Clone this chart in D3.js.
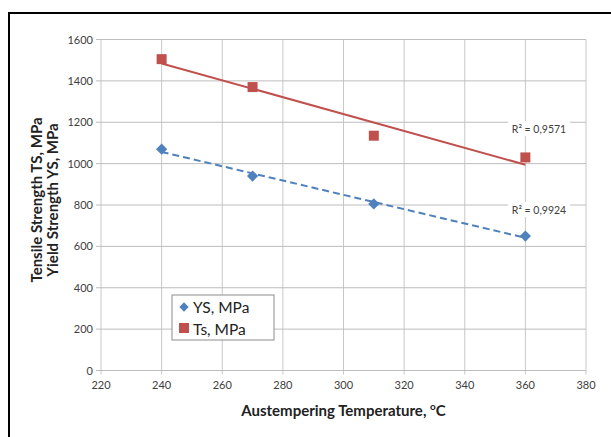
<!DOCTYPE html>
<html>
<head>
<meta charset="utf-8">
<script src="https://cdn.jsdelivr.net/npm/d3@7"></script>
<style>
  body { margin: 0; background: #fff; }
  svg { display: block; font-family: Lato, "Open Sans", sans-serif; }
</style>
</head>
<body>
<svg id="chart" width="611" height="437"></svg>
<script>
let temps = [240, 270, 310, 360];
let ysValues = [1070, 940, 805, 650];
let tsValues = [1505, 1370, 1135, 1030];
let xTicks = [220, 240, 260, 280, 300, 320, 340, 360, 380];
let yTicks = [0, 200, 400, 600, 800, 1000, 1200, 1400, 1600];
let seriesNames = ["YS, MPa", "Ts, MPa"];
let r2Labels = ["R\u00b2 = 0,9571", "R\u00b2 = 0,9924"];

let svg = d3.select("#chart");
let plotLeft = 101, plotRight = 586, plotTop = 39.5, plotBottom = 370.5;

let x = d3.scaleLinear().domain([220, 380]).range([plotLeft, plotRight]);
let y = d3.scaleLinear().domain([0, 1600]).range([plotBottom, plotTop]);

// outer frame (only top and left visible)
svg.append("path")
    .attr("d", "M9,440 L9,13 L615,13")
    .style("fill", "none")
    .style("stroke", "#000")
    .style("stroke-width", 2);

// grid
svg.append("g").selectAll("line")
    .data(xTicks)
    .enter()
    .append("line")
    .attr("x1", d => x(d)).attr("x2", d => x(d))
    .attr("y1", plotTop).attr("y2", plotBottom + 4)
    .style("stroke", "#c8c8c8");
svg.append("g").selectAll("line")
    .data(yTicks)
    .enter()
    .append("line")
    .attr("x1", plotLeft - 5).attr("x2", plotRight)
    .attr("y1", d => y(d)).attr("y2", d => y(d))
    .style("stroke", "#bdbdbd");

// tick labels
svg.append("g").selectAll("text")
    .data(yTicks)
    .enter()
    .append("text")
    .attr("x", plotLeft - 8)
    .attr("y", d => y(d) + 4)
    .attr("text-anchor", "end")
    .style("font-size", "11px")
    .style("fill", "#404040")
    .text(d => d);
svg.append("g").selectAll("text")
    .data(xTicks)
    .enter()
    .append("text")
    .attr("x", d => x(d))
    .attr("y", plotBottom + 18)
    .attr("text-anchor", "middle")
    .style("font-size", "11px")
    .style("fill", "#404040")
    .text(d => d);

// axis titles
let xt = svg.append("text")
    .attr("x", (plotLeft + plotRight) / 2)
    .attr("y", 416)
    .attr("text-anchor", "middle")
    .style("font-size", "15px")
    .style("font-weight", "bold")
    .style("fill", "#222");
xt.append("tspan").text("Austempering Temperature, ");
xt.append("tspan").attr("dy", -6).style("font-size", "10px").text("o");
xt.append("tspan").attr("dy", 6).text("C");

let yt = svg.append("text")
    .attr("transform", "translate(42,200) rotate(-90)")
    .attr("text-anchor", "middle")
    .style("font-size", "15px")
    .style("font-weight", "bold")
    .style("fill", "#222");
yt.append("tspan").attr("x", 0).attr("dy", 0).text("Tensile Strength TS, MPa");
yt.append("tspan").attr("x", 0).attr("dy", 16).text("Yield Strength YS, MPa");

// linear trend lines
function fit(xs, ys) {
    let mx = d3.mean(xs), my = d3.mean(ys);
    let sxy = d3.sum(xs, (v, i) => (v - mx) * (ys[i] - my));
    let sxx = d3.sum(xs, v => (v - mx) * (v - mx));
    let b = sxy / sxx;
    return v => my + b * (v - mx);
}
let fTs = fit(temps, tsValues);
let fYs = fit(temps, ysValues);
let xEnds = [d3.min(temps), d3.max(temps)];

svg.append("line")
    .attr("x1", x(xEnds[0])).attr("y1", y(fTs(xEnds[0])))
    .attr("x2", x(xEnds[1])).attr("y2", y(fTs(xEnds[1])))
    .style("stroke", "#c0504d")
    .style("stroke-width", 2);
svg.append("line")
    .attr("x1", x(xEnds[0])).attr("y1", y(fYs(xEnds[0])))
    .attr("x2", x(xEnds[1])).attr("y2", y(fYs(xEnds[1])))
    .style("stroke", "#4f81bd")
    .style("stroke-width", 2)
    .style("stroke-dasharray", "7,4");

// markers
svg.append("g").selectAll("rect")
    .data(temps)
    .enter()
    .append("rect")
    .attr("x", d => x(d) - 5)
    .attr("y", (d, i) => y(tsValues[i]) - 5)
    .attr("width", 10).attr("height", 10)
    .style("fill", "#c0504d");
svg.append("g").selectAll("path")
    .data(temps)
    .enter()
    .append("path")
    .attr("d", d3.symbol().type(d3.symbolDiamond2).size(80))
    .attr("transform", (d, i) => "translate(" + x(d) + "," + y(ysValues[i]) + ")")
    .style("fill", "#4f81bd");

// R² labels
let r2Pos = [[539, 129], [539, 210]];
r2Labels.forEach((t, i) => {
    svg.append("rect")
        .attr("x", r2Pos[i][0] - 31).attr("y", r2Pos[i][1] - 8)
        .attr("width", 62).attr("height", 15)
        .style("fill", "#fff");
    svg.append("text")
        .attr("x", r2Pos[i][0]).attr("y", r2Pos[i][1] + 4)
        .attr("text-anchor", "middle")
        .style("font-size", "10.5px")
        .style("fill", "#404040")
        .text(t);
});

// legend
let lg = svg.append("g").attr("transform", "translate(172,295)");
lg.append("rect")
    .attr("width", 102).attr("height", 45)
    .style("fill", "#fff")
    .style("stroke", "#8c8c8c");
lg.append("path")
    .attr("d", d3.symbol().type(d3.symbolDiamond2).size(55))
    .attr("transform", "translate(12,12)")
    .style("fill", "#4f81bd");
lg.append("rect")
    .attr("x", 7).attr("y", 28).attr("width", 10).attr("height", 10)
    .style("fill", "#c0504d");
lg.selectAll("text")
    .data(seriesNames)
    .enter()
    .append("text")
    .attr("x", 21)
    .attr("y", (d, i) => 18 + i * 22)
    .style("font-size", "15.5px")
    .style("fill", "#222")
    .text(d => d);
</script>
</body>
</html>
